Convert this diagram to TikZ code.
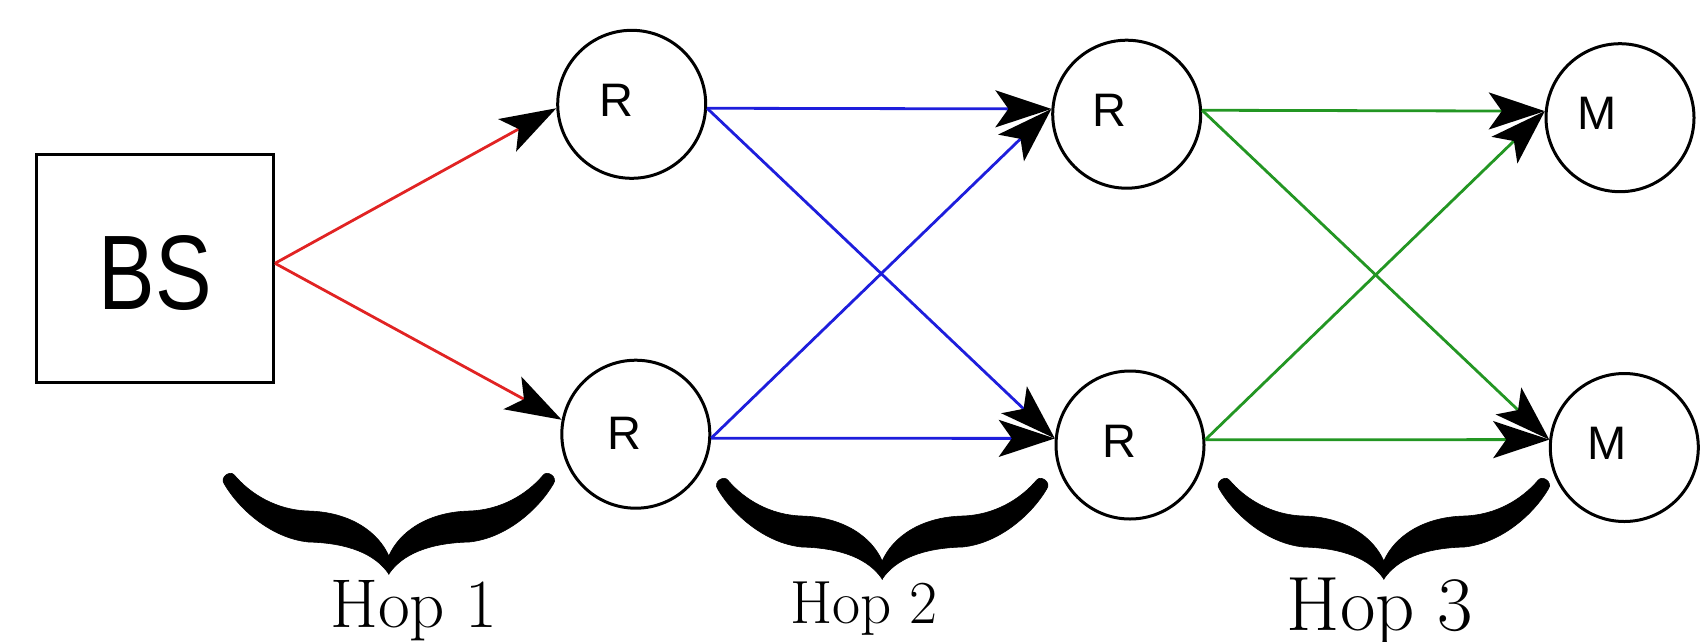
\documentclass[tikz,border=0pt]{standalone}
\usepackage{fontspec}
\newfontfamily\lsans{Liberation Sans}
\usetikzlibrary{arrows.meta}
\definecolor{ered}{RGB}{225,35,35}
\definecolor{eblue}{RGB}{30,30,220}
\definecolor{egreen}{RGB}{35,150,35}
\newcommand\hbhalf{(-4,4) .. controls (10,28) and (42,58) .. (80,62) .. controls (120,63) and (147,74) .. (160.5,94) -- (160.5,76) .. controls (150,52) and (122,32) .. (80,31) .. controls (48,30) and (22,14) .. (6,-5) .. controls (2,-10) and (-9,-3) .. (-4,4) -- cycle}
\begin{document}
\begin{tikzpicture}[x=1pt,y=-1pt,
  circ/.style={circle, draw, line width=3pt, minimum size=148pt, inner sep=0pt},
  lbl/.style={font=\lsans\fontsize{47}{50}\selectfont, inner sep=0pt},
  link/.style={line width=2.8pt, -{Stealth[length=56pt,width=37pt,inset=13pt,color=black]}},
  hop/.style={anchor=base, inner sep=0pt},
  hopbrace/.pic={
    \filldraw[black, line width=0.6pt] \hbhalf;
    \filldraw[black, line width=0.6pt, xshift=321pt, xscale=-1] \hbhalf;
  }]
\useasboundingbox (0,0) rectangle (1708,641);

% base station
\node[draw, line width=3pt, minimum width=237pt, minimum height=228pt, inner sep=0pt,
  label={[font=\lsans\fontsize{106}{108}\selectfont, inner sep=0pt, yshift=-5pt]center:\scalebox{0.8}[1]{BS}}]
  (bs) at (155,268.3) {};

% relays and mobiles
\node[circ, label={[lbl, xshift=-15pt, yshift=4pt]center:R}] (r1) at (631.7,104.3) {};
\node[circ, label={[lbl, xshift=-11pt, yshift=1pt]center:R}] (r2) at (635.8,434.2) {};
\node[circ, label={[lbl, xshift=-17pt, yshift=4pt]center:R}] (r3) at (1126.7,114.2) {};
\node[circ, label={[lbl, xshift=-11pt, yshift=3.5pt]center:R}] (r4) at (1130,445) {};
\node[circ, label={[lbl, xshift=-23pt, yshift=4pt]center:M}] (m1) at (1620,117.7) {};
\node[circ, label={[lbl, xshift=-17pt, yshift=4.5pt]center:M}] (m2) at (1624.3,447.5) {};

% hop 1
\draw[link, ered] ([yshift=5pt]bs.east) -- (r1.-177);
\draw[link, ered] ([yshift=5pt]bs.east) -- (r2.169);
% hop 2
\draw[link, eblue] (r1.-3) -- (r3.176);
\draw[link, eblue] (r1.-3) -- (r4.175);
\draw[link, eblue] (r2.-3) -- (r3.176);
\draw[link, eblue] (r2.-3) -- (r4.175);
% hop 3
\draw[link, egreen] (r3.3) -- (m1.175);
\draw[link, egreen] (r3.3) -- (m2.174);
\draw[link, egreen] (r4.4) -- (m1.175);
\draw[link, egreen] (r4.4) -- (m2.174);

% braces and labels
\pic at (228.3,480) {hopbrace};
\pic at (721.7,485) {hopbrace};
\pic at (1223.3,485) {hopbrace};
\node[hop, font=\fontsize{69}{72}\selectfont] (h1) at (414,627) {Hop 1};
\node[hop, font=\fontsize{61}{64}\selectfont] (h2) at (864,623) {Hop 2};
\node[hop, font=\fontsize{77}{80}\selectfont] (h3) at (1380,630) {Hop 3};
\end{tikzpicture}
\end{document}
